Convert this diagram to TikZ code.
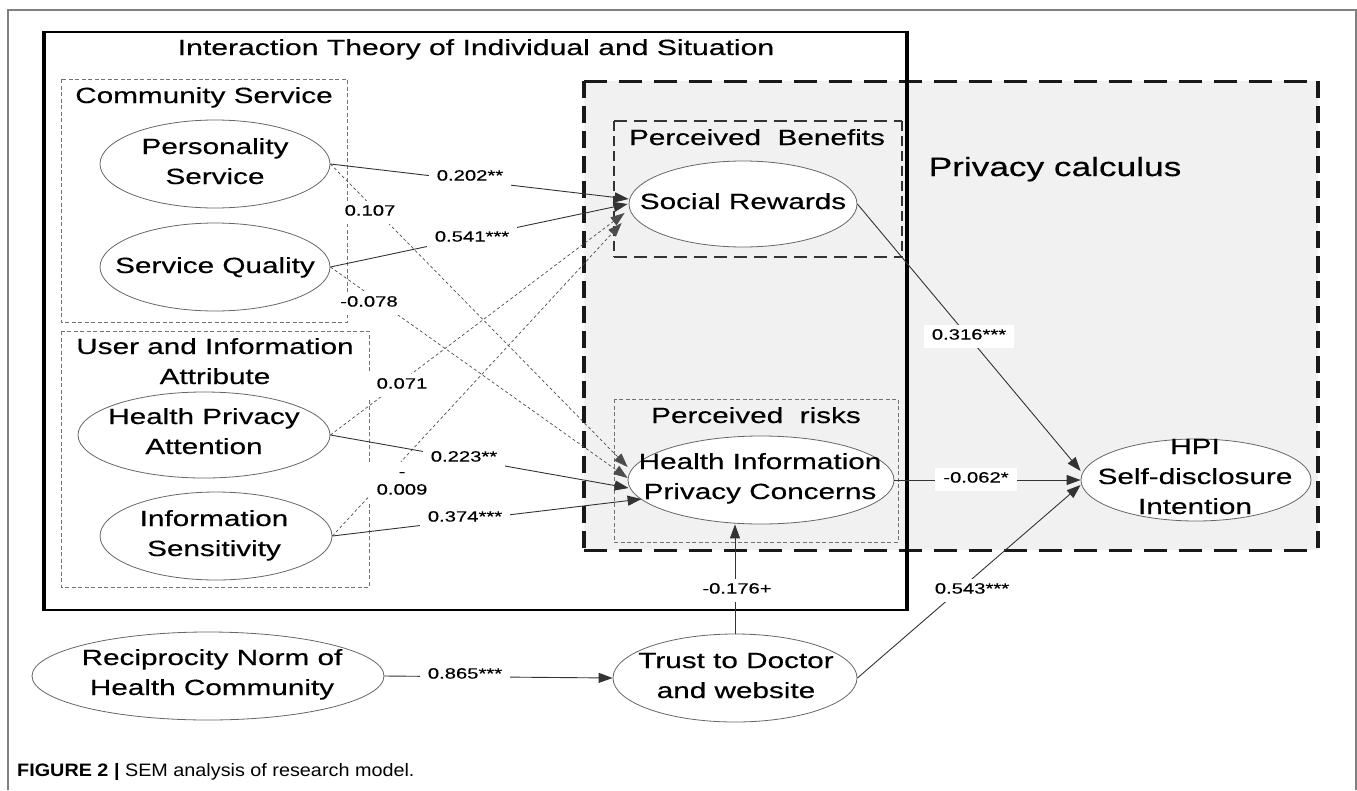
\documentclass[tikz,border=0pt]{standalone}
\usepackage{fontspec}
\setmainfont{Liberation Sans}[FakeBold=0.35]
\newfontfamily\capfont{Liberation Sans}
\usepackage{graphicx}
\usetikzlibrary{shapes.geometric,arrows.meta}
\newcommand{\sxt}[2][1.35]{\scalebox{#1}[1]{\begin{tabular}{@{}c@{}}#2\end{tabular}}}
\definecolor{pcfill}{HTML}{F1F1F1}
\tikzset{
  ell/.style={ellipse, draw=black!60, line width=0.8pt, fill=white, inner sep=0pt},
  txt/.style={font=\fontsize{22}{30}\selectfont, inner sep=0pt},
  bigtxt/.style={font=\fontsize{26.5}{30}\selectfont, inner sep=0pt},
  lbl/.style={font=\fontsize{15}{18}\selectfont, fill=white, inner xsep=8pt, inner ysep=2.5pt},
  arr/.style={-{Triangle[length=14pt,width=10pt]}, draw=black!80, line width=0.9pt},
  darr/.style={arr, draw=black!70, line width=0.7pt, dash pattern=on 3pt off 2.5pt},
  finebox/.style={draw=black!55, line width=0.8pt, dash pattern=on 4pt off 2.5pt},
}
\begin{document}
\begin{tikzpicture}[x=1pt,y=-1pt]
\useasboundingbox (0,0) rectangle (1357,790);
% outer frame
\draw[draw=black!50, line width=2pt] (8,790) -- (8,10) -- (1356,10) -- (1356,790);
% privacy calculus area
\fill[pcfill] (584,81) rectangle (1318,550);
\draw[line width=3pt, draw=black!90, dash pattern=on 23pt off 12pt] (584,81) -- (1318,81);
\draw[line width=3pt, draw=black!90, dash pattern=on 23pt off 12pt] (584,550) -- (1318,550);
\draw[line width=3.6pt, draw=black!90, dash pattern=on 17pt off 8pt] (584,81) -- (584,550);
\draw[line width=3.6pt, draw=black!90, dash pattern=on 17pt off 8pt] (1318,81) -- (1318,550);
% interaction theory box
\draw[line width=2.8pt] (44,32) -- (907,32);
\draw[line width=2.8pt] (44,610) -- (907,610);
\draw[line width=3.6pt] (44,30.6) -- (44,611.4);
\draw[line width=3.6pt] (907,30.6) -- (907,611.4);
% perceived benefits box
\draw[line width=2pt, draw=black!80, dash pattern=on 13pt off 7pt] (614,121) -- (902,121);
\draw[line width=2pt, draw=black!80, dash pattern=on 13pt off 7pt] (614,257) -- (902,257);
\draw[line width=2.4pt, draw=black!80, dash pattern=on 10pt off 5pt] (614,121) -- (614,257);
\draw[line width=2.4pt, draw=black!80, dash pattern=on 10pt off 5pt] (902,121) -- (902,257);
% fine dashed boxes
\draw[finebox] (614,399) rectangle (898,542);
\draw[finebox] (61,79) rectangle (347,322);
\draw[finebox] (61,331) rectangle (369,587);
% ellipses
\node[ell, minimum width=230pt, minimum height=88pt] (ps) at (215,164) {};
\node[ell, minimum width=230pt, minimum height=88pt] (sq) at (215,267) {};
\node[ell, minimum width=252pt, minimum height=86pt] (hpa) at (204,435) {};
\node[ell, minimum width=232pt, minimum height=88pt] (is) at (216,536) {};
\node[ell, minimum width=228pt, minimum height=86pt] (sr) at (743,204) {};
\node[ell, minimum width=266pt, minimum height=88pt] (hipc) at (761,480) {};
\node[ell, minimum width=230pt, minimum height=82pt] (hpi) at (1196,480) {};
\node[ell, minimum width=244pt, minimum height=88pt] (trust) at (735,678) {};
\node[ell, minimum width=352pt, minimum height=88pt] (recip) at (208,676) {};
% titles
\node[txt] (ttl) at (476,49) {\sxt[1.37]{Interaction Theory of Individual and Situation}};
\node[txt] (tcs) at (204,97) {\sxt{Community Service}};
\node[txt] (tuia) at (215,363) {\sxt{User and Information\\Attribute}};
\node[txt] (tpb) at (757,139) {\sxt{Perceived\ \ Benefits}};
\node[txt] (tpr) at (756,417) {\sxt{Perceived\ \ risks}};
\node[bigtxt] (tpc) at (1055,170) {\sxt[1.33]{Privacy calculus}};
% ellipse texts
\node[txt] (xps) at (215,163) {\sxt{Personality\\Service}};
\node[txt] (xsq) at (215,267) {\sxt{Service Quality}};
\node[txt] (xhpa) at (204,433) {\sxt{Health Privacy\\Attention}};
\node[txt] (xis) at (214,535) {\sxt{Information\\Sensitivity}};
\node[txt] (xsr) at (743,203) {\sxt{Social Rewards}};
\node[txt] (xhipc) at (760,478) {\sxt{Health Information\\Privacy Concerns}};
\node[txt] (xhpi) at (1195,478) {\sxt{HPI\\Self-disclosure\\Intention}};
\node[txt] (xtrust) at (736,677) {\sxt{Trust to Doctor\\and website}};
\node[txt] (xrecip) at (212,674) {\sxt{Reciprocity Norm of\\Health Community}};
% connectors
\draw[arr] (ps.east) -- ([yshift=5pt]sr.west);
\draw[arr] (sq.east) -- ([xshift=-1pt]sr.west);
\draw[darr] (hpa.east) -- ([xshift=-4pt,yshift=-9pt]sr.west);
\draw[darr] (is.east) -- ([xshift=-7pt,yshift=-19pt]sr.west);
\draw[darr] (ps.east) -- ([yshift=13pt]hipc.west);
\draw[darr] (sq.east) -- ([yshift=2pt]hipc.west);
\draw[arr] (hpa.east) -- ([xshift=1pt,yshift=-8pt]hipc.west);
\draw[arr] (is.east) -- ([xshift=14pt,yshift=-19pt]hipc.west);
\draw[arr] (sr.east) -- ([yshift=9pt]hpi.west);
\draw[arr] (hipc.east) -- (hpi.west);
\draw[arr] (recip.east) -- (trust.west);
\draw[arr] (trust.north) -- (trust.north |- hipc.south);
\draw[arr] (trust.east) -- ([yshift=-5pt]hpi.west);
% labels
\node[lbl] (l1) at (470,177) {\sxt{0.202**}};
\node[lbl] (l2) at (472,238) {\sxt{0.541***}};
\node[lbl] (l3) at (370,212) {\sxt{0.107}};
\node[lbl] (l4) at (369,303) {\sxt{-0.078}};
\node[lbl] (l5) at (402,385) {\sxt{0.071}};
\node[lbl] (l6) at (402,482) {\sxt{-\\0.009}};
\node[lbl] (l7) at (464,458) {\sxt{0.223**}};
\node[lbl] (l8) at (465,518) {\sxt{0.374***}};
\node[lbl] (l9) at (969,336) {\sxt{0.316***}};
\node[lbl] (l10) at (976,479) {\sxt{-0.062*}};
\node[lbl] (l11) at (737,590) {\sxt{-0.176+}};
\node[lbl] (l12) at (972,590) {\sxt{0.543***}};
\node[lbl] (l13) at (465,675) {\sxt{0.865***}};
% caption
\node[anchor=west, inner sep=0pt] (cap) at (17,772) {\scalebox{1.1}[1]{\capfont\fontsize{18}{20}\selectfont\textbf{FIGURE 2 |} SEM analysis of research model.}};
\end{tikzpicture}
\end{document}
